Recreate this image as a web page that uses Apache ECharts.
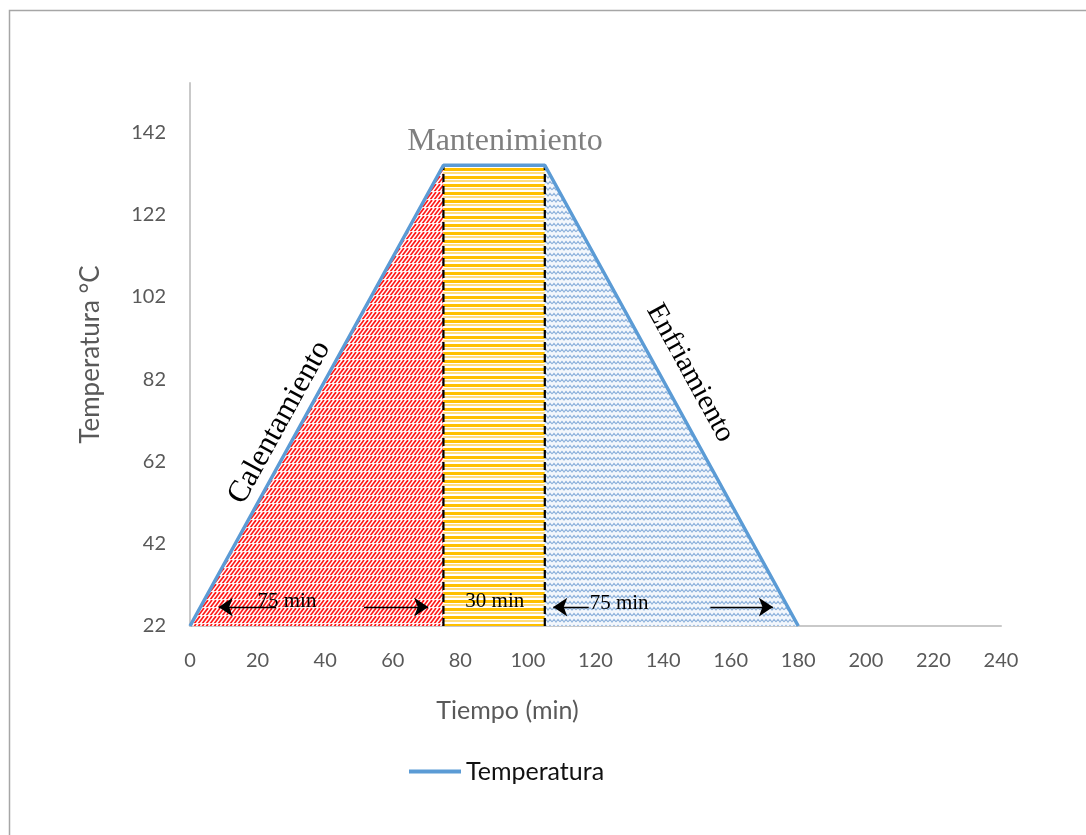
<!DOCTYPE html>
<html>
<head>
<meta charset="utf-8">
<script src="https://cdn.jsdelivr.net/npm/echarts@6/dist/echarts.min.js"></script>
<style>
html,body{margin:0;padding:0;background:#fff}
#chart{width:1086px;height:835px}
</style>
</head>
<body>
<div id="chart"></div>
<script>
// Heat-treatment temperature profile: heating, holding, cooling
const profileTime = [0, 75, 105, 180];          // min
const profileTemp = [22, 134, 134, 22];         // °C
const yTickLabels = [22, 42, 62, 82, 102, 122, 142];
const xTickLabels = [0, 20, 40, 60, 80, 100, 120, 140, 160, 180, 200, 220, 240];
const phaseNames = ['Calentamiento', 'Mantenimiento', 'Enfriamiento'];
const phaseDurations = ['75 min', '30 min', '75 min'];
const seriesName = 'Temperatura';

const pts = profileTime.map((t, i) => [t, profileTemp[i]]);
const base = yTickLabels[0];

// Fill patterns for each phase
function makePattern(w, h, draw) {
  const c = document.createElement('canvas');
  c.width = w; c.height = h;
  const ctx = c.getContext('2d');
  draw(ctx, w, h);
  return { image: c, repeat: 'repeat' };
}
const redHatch = makePattern(8, 8, (ctx, w, h) => {
  ctx.fillStyle = '#ffffff'; ctx.fillRect(0, 0, w, h);
  ctx.strokeStyle = '#ff1a1a'; ctx.lineWidth = 1.7;
  for (let k = -2; k <= 3; k++) {
    ctx.beginPath();
    ctx.moveTo(k * 4 - 2, h);
    ctx.lineTo(k * 4 + 4, 0);
    ctx.stroke();
  }
  ctx.fillStyle = 'rgba(255,255,255,0.85)';
  ctx.fillRect(0, 7, w, 1);
});
const yellowStripes = makePattern(8, 8, (ctx, w, h) => {
  ctx.fillStyle = '#ffffff'; ctx.fillRect(0, 0, w, h);
  ctx.fillStyle = '#ffc000'; ctx.fillRect(0, 0, w, 3);
  ctx.fillStyle = '#ffdd80'; ctx.fillRect(0, 4, w, 2);
});
const blueWeave = makePattern(8, 6, (ctx, w, h) => {
  ctx.fillStyle = '#f3f7fc'; ctx.fillRect(0, 0, w, h);
  ctx.strokeStyle = '#8fb3dc'; ctx.lineWidth = 1.2;
  ctx.beginPath();
  ctx.moveTo(0, 4); ctx.lineTo(2, 1.5); ctx.lineTo(4, 4); ctx.lineTo(6, 1.5); ctx.lineTo(8, 4);
  ctx.stroke();
});

function areaSeries(data, pattern) {
  return {
    type: 'line', data: data, symbol: 'none', silent: true,
    lineStyle: { width: 0 }, areaStyle: { color: pattern, opacity: 1 }, z: 1
  };
}
function dashedVertical(x) {
  return {
    type: 'line', data: [[x, base], [x, profileTemp[1]]], symbol: 'none', silent: true,
    lineStyle: { color: '#000', width: 2.2, type: [8, 4] }, z: 3
  };
}

const arrowY = 26.6;
const arrowLines = [
  [[8.5, arrowY], [25.5, arrowY], 'start'],
  [[51.5, arrowY], [70.5, arrowY], 'end'],
  [[107.5, arrowY], [118, arrowY], 'start'],
  [[154, arrowY], [172.5, arrowY], 'end']
];

const chart = echarts.init(document.getElementById('chart'));
chart.setOption({
  animation: false,
  backgroundColor: '#fff',
  textStyle: { fontFamily: 'Lato' },
  grid: { left: 190, right: 85, top: 83, bottom: 209 },
  xAxis: {
    type: 'value', min: xTickLabels[0], max: xTickLabels[xTickLabels.length - 1], interval: 20,
    name: 'Tiempo (min)', nameLocation: 'middle', nameGap: 72,
    nameTextStyle: { color: '#595959', fontSize: 25, fontFamily: 'Lato', padding: [0, 176, 0, 0] },
    axisLine: { lineStyle: { color: '#c9c9c9', width: 2 } },
    axisTick: { show: false }, splitLine: { show: false },
    axisLabel: { color: '#595959', fontSize: 20, margin: 25, fontFamily: 'Lato' }
  },
  yAxis: {
    type: 'value', min: base, max: 154, interval: 20,
    name: 'Temperatura °C', nameLocation: 'middle', nameGap: 86,
    nameTextStyle: { color: '#595959', fontSize: 26, fontFamily: 'Lato' },
    axisLine: { show: true, lineStyle: { color: '#c9c9c9', width: 2 } },
    axisTick: { show: false }, splitLine: { show: false },
    axisLabel: { color: '#595959', fontSize: 20, margin: 24, showMaxLabel: false, fontFamily: 'Lato',
      formatter: v => (yTickLabels.indexOf(v) >= 0 ? String(v) : '') }
  },
  legend: {
    data: [seriesName], bottom: 46, left: 404,
    icon: 'rect', itemWidth: 52, itemHeight: 4, itemGap: 6,
    textStyle: { color: '#111', fontSize: 25, fontFamily: 'Lato' }
  },
  series: [
    areaSeries(pts.slice(0, 2), redHatch),
    areaSeries(pts.slice(1, 3), yellowStripes),
    areaSeries(pts.slice(2, 4), blueWeave),
    dashedVertical(profileTime[1]),
    dashedVertical(profileTime[2]),
    {
      type: 'line', data: [[0, base]], symbol: 'none', silent: true,
      lineStyle: { opacity: 0 },
      markLine: {
        silent: true, animation: false, symbolSize: 14,
        label: { show: false },
        lineStyle: { color: '#000', width: 1.3, type: 'solid' },
        data: arrowLines.map(a => [
          { coord: a[0], symbol: a[2] === 'start' ? 'arrow' : 'none' },
          { coord: a[1], symbol: a[2] === 'end' ? 'arrow' : 'none' }
        ])
      }, z: 4
    },
    {
      name: seriesName, type: 'line', data: pts, symbol: 'none',
      lineStyle: { color: '#5b9bd5', width: 3.5 }, itemStyle: { color: '#5b9bd5' }, z: 5
    }
  ]
});

// Phase annotations placed in data coordinates
function px(x, y) { return chart.convertToPixel({ xAxisIndex: 0, yAxisIndex: 0 }, [x, y]); }
function txt(p, text, size, color, rot) {
  return {
    type: 'text', x: p[0], y: p[1], rotation: rot || 0, z: 10,
    style: { text: text, fontFamily: 'Liberation Serif', fontSize: size, fill: color,
      align: 'center', verticalAlign: 'middle' }
  };
}
const p0 = px(profileTime[0], profileTemp[0]), p1 = px(profileTime[1], profileTemp[1]);
const p2 = px(profileTime[2], profileTemp[2]), p3 = px(profileTime[3], profileTemp[3]);
const upAngle = Math.atan2(p0[1] - p1[1], p1[0] - p0[0]);
const downAngle = -Math.atan2(p3[1] - p2[1], p3[0] - p2[0]);

chart.setOption({
  graphic: [
    { type: 'rect', shape: { x: 9.5, y: 10.5, width: 1200, height: 1000 },
      style: { fill: null, stroke: '#a6a6a6', lineWidth: 1.5 }, silent: true, z: 0 },
    txt(px(93.2, 139.8), phaseNames[1], 32, '#7f7f7f'),
    txt(px(26.5, 71.5), phaseNames[0], 31, '#000', upAngle),
    txt(px(148, 83.5), phaseNames[2], 29, '#000', downAngle),
    txt(px(28.7, 28), phaseDurations[0], 21, '#000'),
    txt(px(90.2, 28), phaseDurations[1], 21, '#000'),
    txt(px(127, 27.5), phaseDurations[2], 21, '#000')
  ]
});
</script>
</body>
</html>
